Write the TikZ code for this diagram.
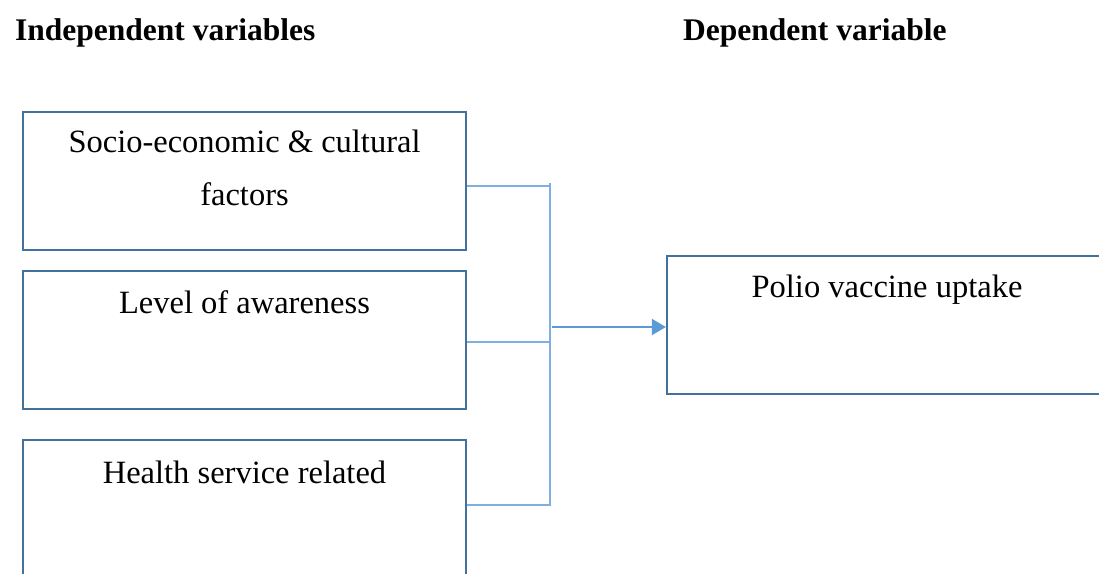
\documentclass[tikz,border=0pt]{standalone}
\usepackage{fontspec}
\setmainfont{Liberation Serif}
\usetikzlibrary{arrows.meta}
\definecolor{boxblue}{HTML}{41719C}
\definecolor{lineblue}{HTML}{5B9BD5}
\definecolor{thinblue}{HTML}{7FAEE0}
\begin{document}
\begin{tikzpicture}[x=1pt,y=-1pt,
  box/.style={draw=boxblue,line width=2.2pt,minimum width=443pt,minimum height=138pt,inner sep=0pt},
  rbox/.style={draw=boxblue,line width=2.2pt,minimum width=440pt,minimum height=138pt,inner sep=0pt},
  txt/.style={font=\fontsize{32.5}{55}\selectfont,anchor=base,inner sep=0pt,align=center},
  head/.style={font=\fontsize{31.5}{38}\selectfont\bfseries,anchor=base west,inner sep=0pt},
  conn/.style={draw=thinblue,line width=1.1pt},
  arr/.style={draw=lineblue,line width=2pt,-{Triangle[length=14pt,width=16pt]}}]
\useasboundingbox (0,0) rectangle (1099,573);
\clip (0,0) rectangle (1099,573);
\node[head] (h1) at (15,40) {Independent variables};
\node[head] (h2) at (683,40) {Dependent variable};
\node[box] (b1) at (244.5,181) {};
\node[box] (b2) at (244.5,340) {};
\node[box] (b3) at (244.5,509) {};
\node[rbox] (b4) at (887,325) {};
\node[txt] (t1a) at (244.5,152.5) {Socio-economic \& cultural};
\node[txt] (t1b) at (244.5,205) {factors};
\node[txt] (t2) at (244.5,313) {Level of awareness};
\node[txt] (t3) at (244.5,483) {Health service related};
\node[txt] (t4) at (887,297) {Polio vaccine uptake};
\coordinate (jt) at (550,183);
\coordinate (jb) at (550,505);
\coordinate (j1) at (551,186);
\coordinate (j2) at (551,342);
\coordinate (j3) at (551,505);
\coordinate (a0) at (552,327);
\draw[conn] (jt) -- (jb);
\draw[conn] (b1.east |- j1) -- (j1);
\draw[conn] (b2.east |- j2) -- (j2);
\draw[conn] (b3.east |- j3) -- (j3);
\draw[arr] (a0) -- (b4.west |- a0);
\end{tikzpicture}
\end{document}
